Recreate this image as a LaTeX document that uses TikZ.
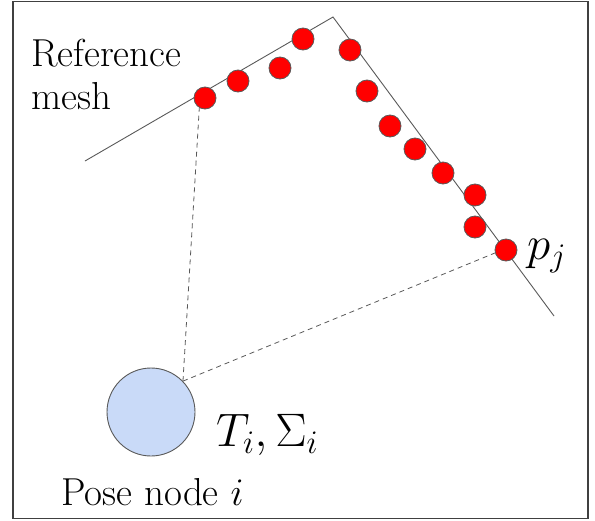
\RequirePackage{fix-cm}
\documentclass[tikz,border=0pt]{standalone}
\usepackage{tikz}
\definecolor{meshgray}{HTML}{595959}
\definecolor{posefill}{HTML}{C9DAF8}
\definecolor{dotred}{HTML}{FF0000}
\begin{document}
\begin{tikzpicture}[x=1pt,y=-1pt,
  meshline/.style={draw=meshgray, line width=0.9pt},
  sample/.style={circle, fill=dotred, draw=meshgray, line width=0.8pt, minimum size=22pt, inner sep=0pt},
  posenode/.style={circle, fill=posefill, draw=meshgray, line width=0.9pt, minimum size=88pt, inner sep=0pt},
  link/.style={draw=meshgray, line width=0.8pt, dash pattern=on 5pt off 4pt},
  lbl/.style={inner sep=0pt, font=\fontsize{39}{43}\selectfont},
  mlbl/.style={inner sep=0pt, font=\fontsize{47}{56}\selectfont}
]
\useasboundingbox (0,0) rectangle (595,520);
\draw[draw=black!75, line width=1.2pt] (13,1.5) rectangle (588,518.5);

% mesh
\coordinate (m0) at (85,161);
\coordinate (apex) at (333,17);
\coordinate (m1) at (554,316);
\draw[meshline] (m0) -- (apex) -- (m1);

% samples
\node[sample] (d1) at (205,98) {};
\node[sample] (d2) at (238,81) {};
\node[sample] (d3) at (280,68) {};
\node[sample] (d4) at (303,39) {};
\node[sample] (d5) at (350,50) {};
\node[sample] (d6) at (367,91) {};
\node[sample] (d7) at (390,126) {};
\node[sample] (d8) at (415,149) {};
\node[sample] (d9) at (443,173) {};
\node[sample] (d10) at (475,195) {};
\node[sample] (d11) at (475,227) {};
\node[sample] (pj) at (506,250) {};

% pose node
\node[posenode] (pose) at (151,412) {};

\draw[link] (pose.44) -- (d1.240);
\draw[link] (pose.44) -- (pj.195);

% labels
\node[lbl, anchor=base west, align=left] (reflbl) at (31,109) {Reference\\mesh};
\node[mlbl, anchor=base west] (pjlbl) at (527,259) {$p_j$};
\node[mlbl, anchor=base west] (tlbl) at (216,446) {$T_i,\Sigma_i$};
\node[lbl, anchor=base west] (poselbl) at (61,505) {Pose node $i$};
\end{tikzpicture}
\end{document}
